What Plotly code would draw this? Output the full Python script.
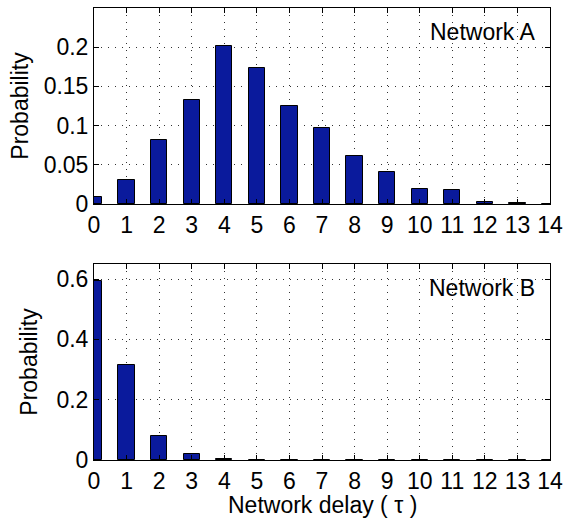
import plotly.graph_objects as go
from plotly.subplots import make_subplots

delays = list(range(0, 15))
prob_a = [0.0095, 0.0305, 0.081, 0.133, 0.201, 0.174, 0.125, 0.0975, 0.061, 0.0405, 0.0186, 0.0177, 0.003, 0.001, 0.0]
prob_b = [0.595, 0.314, 0.078, 0.02, 0.002, 0, 0, 0, 0, 0, 0, 0, 0, 0, 0]
x_ticks = list(range(0, 15))
labels = ["Network A", "Network B"]
x_title = "Network delay ( τ )"

FONT = "Liberation Sans, Arial, Helvetica, sans-serif"
FS = 23
BAR = "#0a1a9c"

fig = make_subplots(rows=2, cols=1, vertical_spacing=0.133)
fig.add_trace(go.Bar(x=delays, y=prob_a, width=0.5, marker=dict(color=BAR, line=dict(color="black", width=1))), row=1, col=1)
fig.add_trace(go.Bar(x=delays, y=prob_b, width=0.5, marker=dict(color=BAR, line=dict(color="black", width=1))), row=2, col=1)

axis_common = dict(
    showline=True, linecolor="black", linewidth=1, mirror="ticks",
    ticks="inside", ticklen=5, tickcolor="black", tickwidth=1,
    showgrid=True, gridcolor="#333333", gridwidth=1, griddash="1px,6px",
    zeroline=False, automargin=False, tickfont=dict(family=FONT, size=FS, color="black"),
)

fig.update_xaxes(range=[0, 14], tickmode="array", tickvals=x_ticks, ticktext=[str(t) for t in x_ticks], **axis_common)
fig.update_yaxes(**axis_common)
fig.update_yaxes(range=[0, 0.25], tickvals=[0, 0.05, 0.1, 0.15, 0.2], ticktext=["0", "0.05", "0.1", "0.15", "0.2"],
                 title=dict(text="Probability", font=dict(family=FONT, size=FS, color="black"), standoff=8), row=1, col=1)
fig.update_yaxes(range=[0, 0.65], tickvals=[0, 0.2, 0.4, 0.6], ticktext=["0", "0.2", "0.4", "0.6"],
                 title=dict(text="Probability", font=dict(family=FONT, size=FS, color="black"), standoff=12), row=2, col=1)

fig.update_layout(
    yaxis=dict(domain=[0.5664, 1.0]),
    yaxis2=dict(domain=[0.0, 0.4336]),
    width=564, height=523,
    margin=dict(l=94, r=14, t=8, b=63),
    plot_bgcolor="white", paper_bgcolor="white",
    showlegend=False, bargap=0,
    font=dict(family=FONT, size=FS, color="black"),
)

fig.add_annotation(text=labels[0], xref="x domain", yref="y domain", x=0.9715, y=0.8776, xanchor="right", yanchor="middle", showarrow=False, font=dict(family=FONT, size=FS, color="black"))
fig.add_annotation(text=labels[1], xref="x2 domain", yref="y2 domain", x=0.9715, y=0.8776, xanchor="right", yanchor="middle", showarrow=False, font=dict(family=FONT, size=FS, color="black"))
fig.add_annotation(text=x_title, xref="x2 domain", yref="paper", x=0.5, y=-0.1, xanchor="center", yanchor="middle", showarrow=False, font=dict(family=FONT, size=FS, color="black"))

fig.write_html("out.html", config={"displayModeBar": False},
               post_script="document.body.style.margin='0px';document.body.style.overflow='hidden';")
